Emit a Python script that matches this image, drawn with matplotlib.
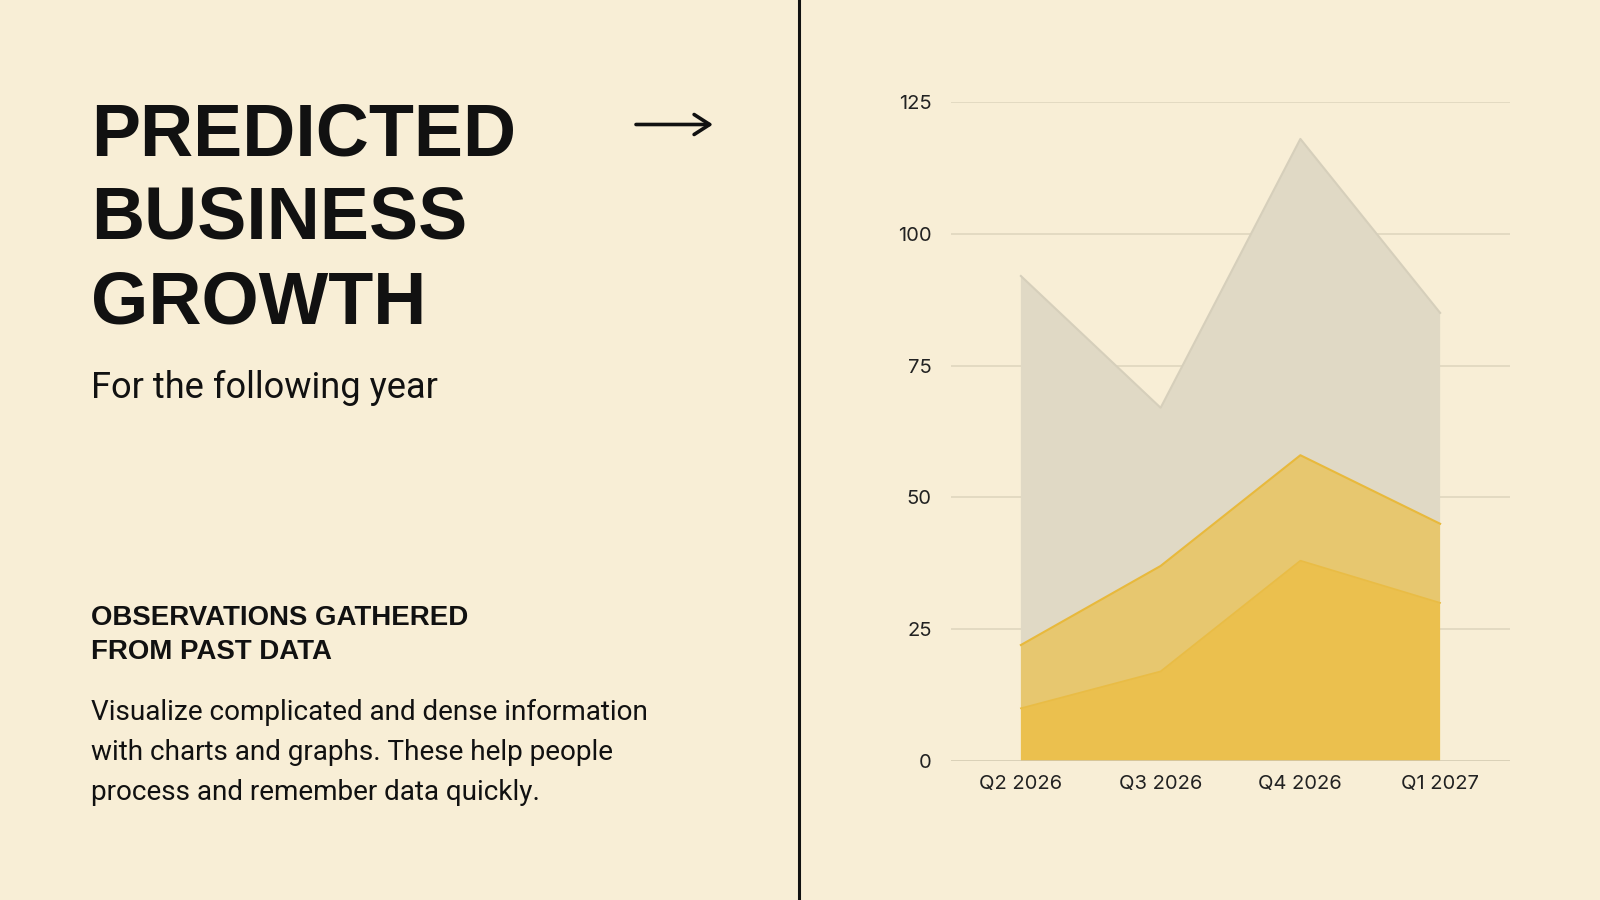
import matplotlib
matplotlib.use("Agg")
import matplotlib.pyplot as plt
import numpy as np

# ---- data ----
quarters = ["Q2 2026", "Q3 2026", "Q4 2026", "Q1 2027"]
series_base = [10, 17, 38, 30]
series_mid = [12, 20, 20, 15]
series_top = [70, 30, 60, 40]
y_ticks = [0, 25, 50, 75, 100, 125]

title_lines = ["PREDICTED", "BUSINESS", "GROWTH"]
subtitle = "For the following year"
obs_lines = ["OBSERVATIONS GATHERED", "FROM PAST DATA"]
body_lines = ["Visualize complicated and dense information",
              "with charts and graphs. These help people",
              "process and remember data quickly."]

BG = "#F8EED6"
C_TOP = "#E0D9C5"
C_MID = "#E7C76F"
C_BASE = "#EBC04E"
INK = "#111111"

W, H = 1600, 900
fig = plt.figure(figsize=(16, 9), dpi=100, facecolor=BG)
renderer = fig.canvas.get_renderer()


def fx(x):
    return x / W


def fy(y):
    return 1 - y / H


def fit_text(x, y_base, s, target_w, family, weight, color=INK, size0=20):
    t = fig.text(fx(x), fy(y_base), s, fontsize=size0, family=family,
                 weight=weight, color=color, ha="left", va="baseline")
    bb = t.get_window_extent(renderer=renderer)
    t.set_fontsize(size0 * target_w / bb.width)
    return t


TITLE_FONT = ["Liberation Sans", "DejaVu Sans"]
BODY_FONT = ["Roboto", "DejaVu Sans"]

# Title
t0 = fit_text(91, 155, title_lines[0], 425, TITLE_FONT, "bold")
fs_title = t0.get_fontsize()
for line, yb in zip(title_lines[1:], [240, 324]):
    fig.text(fx(91), fy(yb), line, fontsize=fs_title, family=TITLE_FONT,
             weight="bold", color=INK, ha="left", va="baseline")

fit_text(91, 398, subtitle, 347, BODY_FONT, "normal")

o0 = fit_text(91, 625, obs_lines[0], 377, TITLE_FONT, "bold")
fig.text(fx(91), fy(659), obs_lines[1], fontsize=o0.get_fontsize(),
         family=TITLE_FONT, weight="bold", color=INK, ha="left", va="baseline")

b0 = fit_text(91, 720, body_lines[0], 558, BODY_FONT, "normal")
for line, yb in zip(body_lines[1:], [760, 800]):
    fig.text(fx(91), fy(yb), line, fontsize=b0.get_fontsize(), family=BODY_FONT,
             color=INK, ha="left", va="baseline")

# Arrow
fig.add_artist(matplotlib.patches.FancyArrowPatch(
    (fx(636), fy(124.5)), (fx(713), fy(124.5)), transform=fig.transFigure,
    arrowstyle="->,head_length=7,head_width=4.5", lw=2.6, color=INK,
    mutation_scale=1.6, shrinkA=0, shrinkB=0))

# Divider
fig.add_artist(matplotlib.lines.Line2D([fx(799), fx(799)], [0, 1],
                                       transform=fig.transFigure,
                                       color=INK, lw=2.2))

# Chart
ax_l, ax_r, ax_top, ax_bot = 951, 1510, 102, 761
ax = fig.add_axes([fx(ax_l), fy(ax_bot), (ax_r - ax_l) / W, (ax_bot - ax_top) / H])
ax.set_facecolor(BG)
x = np.arange(len(quarters))
ax.set_xlim(-0.5, 3.5)
ax.set_ylim(0, 125)
ax.set_yticks(y_ticks)
for v in y_ticks:
    ax.axhline(v, color="#DDD4BC" if v else "#D2C9B0", lw=1.1, zorder=0 if v else 4)
ax.stackplot(x, series_base, series_mid, series_top,
             colors=[C_BASE, C_MID, C_TOP], zorder=2)
c1 = np.array(series_base)
c2 = c1 + np.array(series_mid)
c3 = c2 + np.array(series_top)
ax.plot(x, c3, color="#D6CFBB", lw=1.5, zorder=3)
ax.plot(x, c2, color="#E8B93C", lw=1.5, zorder=3)
ax.plot(x, c1, color="#E9BC45", lw=1.2, zorder=3)
for s in ax.spines.values():
    s.set_visible(False)
ax.tick_params(length=0, labelsize=14.5, colors="#222222", pad=10)
ax.set_xticks(x)
ax.set_xticklabels(quarters, family=["Inter", "DejaVu Sans"])
ax.tick_params(axis="y", pad=14)
for lab in ax.get_yticklabels():
    lab.set_family(["Inter", "DejaVu Sans"])

fig.savefig("out.png", dpi=100, facecolor=BG)
